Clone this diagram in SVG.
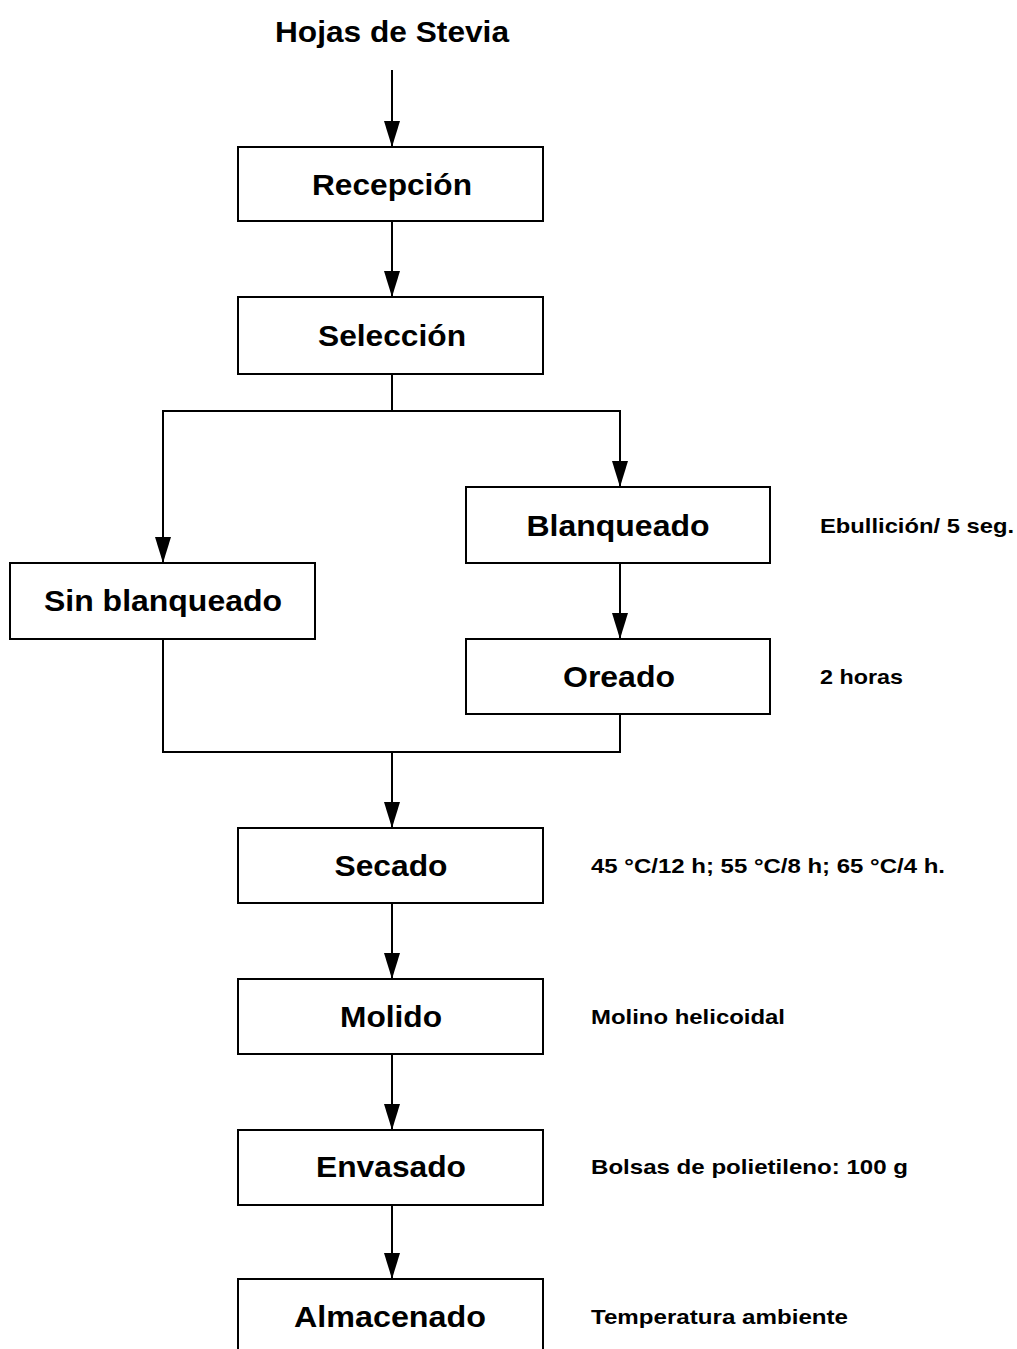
<svg xmlns="http://www.w3.org/2000/svg" width="1017" height="1349" viewBox="0 0 1017 1349">
<style>
.box{fill:#fff;stroke:#000;stroke-width:2}
.lbl{font-family:"Liberation Sans",Arial,sans-serif;font-weight:bold;font-size:30px;fill:#000;text-anchor:middle}
.side{font-family:"Liberation Sans",Arial,sans-serif;font-weight:bold;font-size:21px;fill:#000}
.ln{fill:none;stroke:#000;stroke-width:2}
</style>
<defs>
<marker id="ah" markerUnits="userSpaceOnUse" viewBox="0 -8 26 16" markerWidth="26" markerHeight="16" refX="26" refY="0" orient="auto">
<path d="M0,-8 L26,0 L0,8 z" fill="#000"/>
</marker>
</defs>
<rect width="1017" height="1349" fill="#fff"/>
<g id="connectors">
<line class="ln" x1="392" y1="70" x2="392" y2="147" marker-end="url(#ah)"/>
<line class="ln" x1="392" y1="221" x2="392" y2="297" marker-end="url(#ah)"/>
<polyline class="ln" points="392,374 392,411"/>
<polyline class="ln" points="392,411 163,411 163,563" marker-end="url(#ah)"/>
<polyline class="ln" points="392,411 620,411 620,487" marker-end="url(#ah)"/>
<line class="ln" x1="620" y1="563" x2="620" y2="639" marker-end="url(#ah)"/>
<polyline class="ln" points="163,639 163,752 620,752 620,714"/>
<line class="ln" x1="392" y1="752" x2="392" y2="828" marker-end="url(#ah)"/>
<line class="ln" x1="392" y1="903" x2="392" y2="979" marker-end="url(#ah)"/>
<line class="ln" x1="392" y1="1054" x2="392" y2="1130" marker-end="url(#ah)"/>
<line class="ln" x1="392" y1="1205" x2="392" y2="1279" marker-end="url(#ah)"/>
</g>
<g id="title"><text class="lbl" x="392" y="42" textLength="234" lengthAdjust="spacingAndGlyphs">Hojas de Stevia</text></g>
<g id="recepcion"><rect class="box" x="238" y="147" width="305" height="74"/><text class="lbl" x="392" y="195" textLength="160" lengthAdjust="spacingAndGlyphs">Recepción</text></g>
<g id="seleccion"><rect class="box" x="238" y="297" width="305" height="77"/><text class="lbl" x="392" y="346" textLength="148" lengthAdjust="spacingAndGlyphs">Selección</text></g>
<g id="sinblanqueado"><rect class="box" x="10" y="563" width="305" height="76"/><text class="lbl" x="163" y="611" textLength="238" lengthAdjust="spacingAndGlyphs">Sin blanqueado</text></g>
<g id="blanqueado"><rect class="box" x="466" y="487" width="304" height="76"/><text class="lbl" x="618" y="536" textLength="183" lengthAdjust="spacingAndGlyphs">Blanqueado</text></g>
<g id="oreado"><rect class="box" x="466" y="639" width="304" height="75"/><text class="lbl" x="619" y="687" textLength="112" lengthAdjust="spacingAndGlyphs">Oreado</text></g>
<g id="secado"><rect class="box" x="238" y="828" width="305" height="75"/><text class="lbl" x="391" y="876" textLength="113" lengthAdjust="spacingAndGlyphs">Secado</text></g>
<g id="molido"><rect class="box" x="238" y="979" width="305" height="75"/><text class="lbl" x="391" y="1027" textLength="102" lengthAdjust="spacingAndGlyphs">Molido</text></g>
<g id="envasado"><rect class="box" x="238" y="1130" width="305" height="75"/><text class="lbl" x="391" y="1177" textLength="150" lengthAdjust="spacingAndGlyphs">Envasado</text></g>
<g id="almacenado"><rect class="box" x="238" y="1279" width="305" height="80"/><text class="lbl" x="390" y="1327" textLength="192" lengthAdjust="spacingAndGlyphs">Almacenado</text></g>
<g id="notes">
<text class="side" x="820" y="533" textLength="194" lengthAdjust="spacingAndGlyphs">Ebullición/ 5 seg.</text>
<text class="side" x="820" y="684" textLength="83" lengthAdjust="spacingAndGlyphs">2 horas</text>
<text class="side" x="591" y="873" textLength="354" lengthAdjust="spacingAndGlyphs">45 °C/12 h; 55 °C/8 h; 65 °C/4 h.</text>
<text class="side" x="591" y="1024" textLength="194" lengthAdjust="spacingAndGlyphs">Molino helicoidal</text>
<text class="side" x="591" y="1174" textLength="317" lengthAdjust="spacingAndGlyphs">Bolsas de polietileno: 100 g</text>
<text class="side" x="591" y="1324" textLength="257" lengthAdjust="spacingAndGlyphs">Temperatura ambiente</text>
</g>
</svg>
